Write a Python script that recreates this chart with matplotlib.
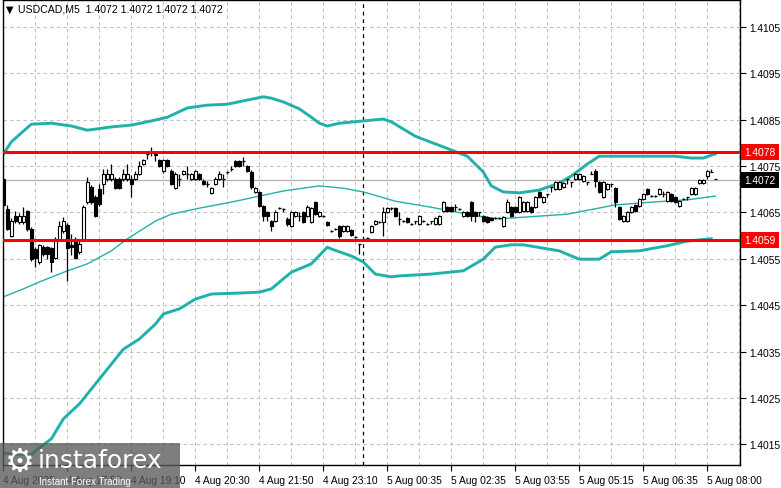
#!/usr/bin/env python3
# -*- coding: utf-8 -*-
# USDCAD M5 candles with Bollinger bands and two level lines (MT4 style)

import matplotlib
matplotlib.use("Agg")
import matplotlib.pyplot as plt
import matplotlib.transforms as mtransforms
from matplotlib.patches import Rectangle
import numpy as np

# candle prices, in points above 1.40000 (1 pt = 0.00001)
open_pts = [722, 657, 599, 642, 629, 629, 653, 614, 571, 543,
            576, 576, 574, 552, 593, 610, 623, 580, 593, 565,
            593, 672, 705, 683, 700, 711, 722, 722, 722, 722,
            722, 722, 722, 722, 733, 754, 776, 780, 776, 763,
            739, 763, 739, 702, 722, 733, 733, 722, 722, 733,
            718, 711, 692, 711, 722, 722, 737, 743, 761, 761,
            761, 750, 737, 694, 694, 664, 651, 631, 631, 659,
            657, 636, 621, 642, 642, 651, 642, 629, 672, 642,
            642, 629, 610, 614, 621, 610, 610, 612, 597, 582,
            593, 595, 608, 625, 629, 629, 651, 659, 659, 636,
            631, 638, 625, 631, 625, 631, 625, 631, 625, 625,
            653, 661, 661, 661, 657, 642, 651, 672, 651, 651,
            642, 640, 638, 638, 638, 621, 651, 661, 661, 651,
            653, 653, 661, 661, 694, 672, 689, 705, 700, 700,
            705, 722, 715, 722, 722, 718, 715, 733, 739, 715,
            683, 700, 711, 702, 661, 631, 631, 651, 666, 664,
            679, 700, 685, 685, 689, 689, 674, 689, 683, 664,
            679, 683, 689, 689, 713, 713, 728, 737, 722]
high_pts = [726, 666, 638, 653, 649, 661, 655, 618, 576, 582,
            580, 578, 576, 597, 631, 640, 627, 603, 597, 588,
            666, 726, 709, 687, 711, 743, 743, 754, 726, 726,
            743, 754, 730, 739, 761, 765, 782, 791, 782, 765,
            765, 765, 743, 737, 733, 741, 750, 735, 741, 735,
            722, 718, 705, 726, 739, 733, 739, 750, 763, 763,
            769, 752, 741, 705, 696, 666, 653, 633, 655, 661,
            659, 640, 653, 653, 651, 653, 666, 661, 674, 653,
            644, 631, 612, 616, 623, 623, 623, 614, 599, 582,
            595, 597, 623, 633, 631, 661, 661, 661, 661, 651,
            633, 640, 627, 631, 644, 633, 627, 631, 640, 644,
            674, 664, 664, 668, 659, 653, 653, 674, 653, 651,
            644, 642, 640, 640, 640, 642, 679, 664, 664, 685,
            674, 674, 664, 685, 696, 685, 689, 705, 718, 718,
            715, 722, 715, 735, 735, 730, 715, 739, 743, 718,
            718, 713, 711, 705, 664, 644, 653, 664, 668, 681,
            692, 702, 687, 687, 702, 696, 696, 692, 685, 677,
            681, 683, 705, 705, 722, 722, 741, 743, 722]
low_pts = [661, 612, 597, 627, 625, 625, 610, 545, 532, 539,
           556, 549, 521, 549, 588, 605, 502, 558, 549, 560,
           588, 668, 668, 640, 664, 689, 718, 718, 700, 700,
           718, 718, 683, 720, 730, 752, 765, 771, 761, 748,
           735, 748, 709, 700, 707, 730, 722, 720, 720, 720,
           709, 705, 689, 709, 720, 705, 733, 739, 748, 748,
           750, 737, 700, 692, 661, 631, 631, 610, 629, 657,
           651, 621, 618, 640, 631, 627, 640, 627, 644, 640,
           640, 621, 608, 612, 595, 608, 608, 599, 595, 560,
           590, 593, 605, 623, 627, 599, 649, 655, 640, 623,
           629, 627, 623, 625, 623, 629, 623, 625, 623, 623,
           651, 651, 651, 653, 655, 640, 640, 631, 629, 642,
           629, 627, 631, 636, 636, 618, 649, 640, 649, 649,
           651, 651, 649, 659, 681, 670, 683, 694, 698, 698,
           702, 711, 705, 720, 720, 715, 709, 733, 705, 692,
           681, 698, 705, 661, 633, 629, 629, 649, 651, 661,
           677, 687, 683, 683, 687, 683, 672, 672, 670, 661,
           677, 677, 687, 687, 711, 711, 722, 737, 722]
close_pts = [666, 614, 631, 631, 642, 642, 614, 549, 552, 580,
             560, 560, 543, 593, 621, 631, 574, 576, 552, 582,
             661, 715, 672, 642, 668, 733, 733, 733, 702, 702,
             733, 733, 711, 733, 750, 763, 776, 780, 774, 750,
             763, 750, 711, 733, 722, 739, 733, 733, 739, 722,
             711, 711, 702, 722, 733, 722, 737, 743, 750, 750,
             761, 739, 705, 702, 664, 642, 642, 621, 651, 659,
             657, 625, 651, 651, 642, 629, 661, 659, 646, 651,
             642, 623, 610, 614, 599, 621, 621, 601, 597, 582,
             593, 595, 621, 631, 629, 651, 659, 659, 642, 636,
             631, 629, 625, 631, 642, 631, 625, 631, 638, 642,
             672, 653, 653, 661, 657, 651, 642, 642, 642, 651,
             631, 629, 633, 638, 638, 640, 672, 642, 651, 683,
             672, 672, 651, 683, 683, 683, 689, 705, 715, 715,
             713, 722, 715, 733, 733, 728, 715, 733, 718, 694,
             715, 711, 711, 672, 636, 642, 651, 661, 653, 679,
             689, 689, 685, 685, 700, 689, 694, 674, 672, 674,
             679, 683, 702, 702, 720, 720, 739, 737, 722]

# Bollinger bands read at some bar positions
upper_idx = [0, 2, 5, 7, 12, 17, 21, 27, 32, 37, 41, 46, 51, 56, 61, 65, 67,
             70, 74, 77, 79, 81, 84, 90, 95, 97, 103, 110, 116, 120, 122, 125,
             129, 134, 139, 142, 146, 149, 159, 168, 172, 175, 178]
upper_val = [1.40776, 1.40802, 1.40825, 1.40840, 1.40842, 1.40836, 1.40827,
             1.40834, 1.40838, 1.40847, 1.40855, 1.40875, 1.40881, 1.40883,
             1.40892, 1.40899, 1.40896, 1.40888, 1.40873, 1.40855, 1.40842,
             1.40836, 1.40842, 1.40847, 1.40851, 1.40845, 1.40814, 1.40791,
             1.40771, 1.40737, 1.40707, 1.40694, 1.40692, 1.40698, 1.40713,
             1.40728, 1.40754, 1.40771, 1.40771, 1.40771, 1.40767, 1.40767,
             1.40776]
middle_idx = [0, 5, 9, 16, 21, 27, 31, 38, 42, 49, 57, 64, 70, 79, 85, 90,
              98, 107, 113, 120, 124, 141, 153, 162, 171, 178]
middle_val = [1.40468, 1.40485, 1.40500, 1.40524, 1.40539, 1.40567, 1.40593,
              1.40631, 1.40646, 1.40659, 1.40672, 1.40685, 1.40696, 1.40707,
              1.40702, 1.40694, 1.40674, 1.40661, 1.40651, 1.40640, 1.40636,
              1.40646, 1.40666, 1.40672, 1.40677, 1.40685]
lower_idx = [0, 7, 8, 12, 15, 19, 23, 27, 30, 34, 38, 40, 44, 48, 52, 59, 64,
             67, 72, 77, 81, 82, 87, 90, 93, 97, 99, 107, 115, 120, 123, 127,
             130, 139, 144, 149, 152, 159, 166, 171, 177]
lower_val = [1.40131, 1.40127, 1.40136, 1.40162, 1.40205, 1.40237, 1.40280,
             1.40323, 1.40355, 1.40377, 1.40409, 1.40431, 1.40442, 1.40463,
             1.40474, 1.40476, 1.40478, 1.40485, 1.40521, 1.40539, 1.40575,
             1.40571, 1.40556, 1.40543, 1.40517, 1.40511, 1.40513, 1.40517,
             1.40524, 1.40549, 1.40575, 1.40580, 1.40580, 1.40567, 1.40549,
             1.40549, 1.40565, 1.40567, 1.40578, 1.40588, 1.40593]

resistance = 1.4078
support = 1.4059
last_price = 1.4072
day_break_bar = 90

y_ticks = [1.4015, 1.4025, 1.4035, 1.4045, 1.4055, 1.4065, 1.4075,
           1.4085, 1.4095, 1.4105]
x_tick_bars = [0, 16, 32, 48, 64, 80, 96, 112, 128, 144, 160, 176]
x_tick_labels = ["4 Aug 2025", "4 Aug 17:50", "4 Aug 19:10", "4 Aug 20:30",
                 "4 Aug 21:50", "4 Aug 23:10", "5 Aug 00:35", "5 Aug 02:35",
                 "5 Aug 03:55", "5 Aug 05:15", "5 Aug 06:35", "5 Aug 08:00"]

TEAL = "#20b2aa"
FONT = "Liberation Sans"

W, H = 781, 489
fig = plt.figure(figsize=(W / 100, H / 100), dpi=100)
fig.patch.set_facecolor("white")
ax = fig.add_axes([3 / W, 23 / H, 737 / W, 465 / H])

o = 1.4 + np.array(open_pts) / 1e5
h = 1.4 + np.array(high_pts) / 1e5
l = 1.4 + np.array(low_pts) / 1e5
c = 1.4 + np.array(close_pts) / 1e5
idx = np.arange(len(c))

# grid
for yv in y_ticks:
    ax.axhline(yv, color="#c0c0c0", lw=0.8, ls=(0, (3, 3)), zorder=0)
for b in range(8, 185, 8):
    ax.axvline(b, color="#c0c0c0", lw=0.8, ls=(0, (3, 3)), zorder=0)

# bid line and day separator
ax.axhline(last_price, color="#b4b4b4", lw=0.9, zorder=1)
ax.axvline(day_break_bar, color="black", lw=0.9, ls=(0, (3, 3)), zorder=1)

# bands
ax.plot(upper_idx, upper_val, color=TEAL, lw=2.1, zorder=2,
        solid_joinstyle="round")
ax.plot(lower_idx, lower_val, color=TEAL, lw=2.1, zorder=2,
        solid_joinstyle="round")
ax.plot(middle_idx, middle_val, color=TEAL, lw=1.0, zorder=2)

# candles
ax.vlines(idx, l, h, color="black", lw=0.9, zorder=3)
up = c > o
dn = c < o
fl = c == o
bw = 0.72
ax.bar(idx[up], c[up] - o[up], bottom=o[up], width=bw, color="white",
       edgecolor="black", lw=0.8, zorder=4)
ax.bar(idx[dn], o[dn] - c[dn], bottom=c[dn], width=bw, color="black",
       edgecolor="black", lw=0.8, zorder=4)
ax.hlines(c[fl], idx[fl] - bw / 2, idx[fl] + bw / 2, color="black", lw=0.9,
          zorder=4)

# level lines
ax.axhline(resistance, color="#ff0000", lw=2.2, zorder=5)
ax.axhline(support, color="#ff0000", lw=2.2, zorder=5)

ax.set_xlim(-0.1, 184.2)
ax.set_ylim(1.401055, 1.411076)

ax.yaxis.tick_right()
ax.set_yticks(y_ticks)
ax.set_yticklabels([f"{v:.4f}" for v in y_ticks], fontsize=7.4, family=FONT)
ax.tick_params(axis="y", direction="out", length=4, width=0.8, pad=3,
               colors="black")
ax.set_xticks(x_tick_bars)
ax.set_xticklabels(x_tick_labels, fontsize=7.4, family=FONT, ha="left")
ax.tick_params(axis="x", direction="out", length=4, width=0.8, pad=3)
for s in ax.spines.values():
    s.set_color("black")
    s.set_linewidth(1.0)

# price tags on the right axis
trans = mtransforms.blended_transform_factory(ax.transAxes, ax.transData)
for val, fc in [(resistance, "#ff0000"), (support, "#ff0000"),
                (last_price, "black")]:
    ax.text(1.006, val, f"{val:.4f}", transform=trans, ha="left",
            va="center", fontsize=7.4, family=FONT, color="white",
            bbox=dict(boxstyle="square,pad=0.3", fc=fc, ec="none"),
            zorder=10, clip_on=False)

# header
fig.text(6 / W, 1 - 10 / H, "\u25bc", fontsize=7, family="DejaVu Sans",
         va="center", ha="left")
fig.text(18 / W, 1 - 10 / H, "USDCAD,M5  1.4072 1.4072 1.4072 1.4072",
         fontsize=7.6, family=FONT, va="center", ha="left")

# watermark
fig.patches.append(Rectangle((0, 0), 180 / W, 45 / H, transform=fig.transFigure,
                             fc="#5a5a5a", ec="none", alpha=0.78, zorder=20))
fig.text(20 / W, 1 - 462 / H, "\u2699", fontsize=24, family="DejaVu Sans",
         color="white", ha="center", va="center", zorder=21)
fig.text(38 / W, 1 - 461 / H, "instaforex", fontsize=18, family="DejaVu Sans",
         color="white", ha="left", va="center", zorder=21)
fig.text(39 / W, 1 - 482 / H, "Instant Forex Trading", fontsize=7,
         family=FONT, color="white", ha="left", va="center", zorder=21)

fig.savefig("out.png", dpi=100, facecolor="white")
